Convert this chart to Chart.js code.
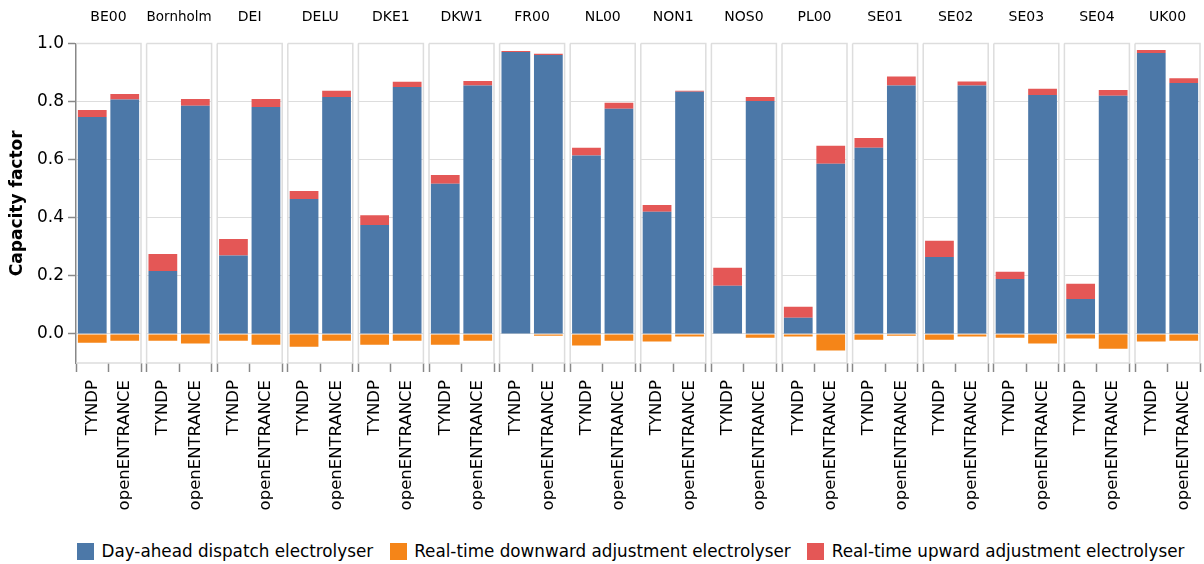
<!DOCTYPE html>
<html>
<head>
<meta charset="utf-8">
<script src="https://cdn.jsdelivr.net/npm/chart.js@4/dist/chart.umd.min.js"></script>
<style>
  html, body { margin: 0; padding: 0; background: #fff; width: 1204px; height: 564px; overflow: hidden; }
  #wrap { position: relative; width: 1204px; height: 564px; font-family: "DejaVu Sans", sans-serif; }
  #wrap canvas { position: absolute; top: 0; }
  #legend { position: absolute; left: 77px; top: 541px; display: flex; align-items: center; font-size: 16.8px; color: #000; white-space: nowrap; }
  #legend .item { display: flex; align-items: center; margin-right: 16.5px; }
  #legend .sw { width: 17px; height: 17px; margin-right: 7.5px; }
</style>
</head>
<body>
<div id="wrap"><div id="legend"></div></div>
<script>
// Regions (facets) and the two model runs compared in each
const regions = ['BE00', 'Bornholm', 'DEI', 'DELU', 'DKE1', 'DKW1', 'FR00', 'NL00',
                 'NON1', 'NOS0', 'PL00', 'SE01', 'SE02', 'SE03', 'SE04', 'UK00'];
const models = ['TYNDP', 'openENTRANCE'];

// Day-ahead dispatch capacity factor
const dayAheadTyndp = [0.747, 0.217, 0.270, 0.465, 0.375, 0.517, 0.971, 0.614,
                       0.421, 0.166, 0.056, 0.641, 0.265, 0.189, 0.120, 0.967];
const dayAheadOpen  = [0.807, 0.786, 0.781, 0.816, 0.850, 0.855, 0.960, 0.775,
                       0.834, 0.802, 0.586, 0.855, 0.855, 0.823, 0.820, 0.864];

// Real-time downward adjustment (negative)
const downTyndp = [-0.030, -0.023, -0.023, -0.044, -0.037, -0.037, -0.002, -0.040,
                   -0.026, -0.002, -0.009, -0.020, -0.020, -0.013, -0.016, -0.026];
const downOpen  = [-0.023, -0.033, -0.037, -0.023, -0.023, -0.023, -0.006, -0.023,
                   -0.009, -0.013, -0.057, -0.006, -0.009, -0.033, -0.051, -0.023];

// Real-time upward adjustment
const upTyndp = [0.024, 0.058, 0.057, 0.027, 0.034, 0.030, 0.003, 0.027,
                 0.023, 0.062, 0.038, 0.034, 0.056, 0.025, 0.053, 0.011];
const upOpen  = [0.019, 0.023, 0.028, 0.021, 0.018, 0.016, 0.005, 0.021,
                 0.003, 0.014, 0.062, 0.031, 0.014, 0.021, 0.020, 0.016];

const yTicks = [0, 0.2, 0.4, 0.6, 0.8, 1.0];

const seriesNames = ['Day-ahead dispatch electrolyser',
                     'Real-time downward adjustment electrolyser',
                     'Real-time upward adjustment electrolyser'];
const seriesColors = ['#4c78a8', '#f58518', '#e45756'];

const FONT = '"DejaVu Sans", sans-serif';
const CANVAS_H = 530;
const PLOT_TOP = 43.5;
const PLOT_BOTTOM = 363;
const FIRST_LEFT = 76;
const PANEL_W = 65;
const PANEL_STEP = 70.6;

// Light frame around each facet; the first facet keeps its y-axis line on the left
const framePlugin = {
  id: 'facetFrame',
  beforeDatasetsDraw(chart, args, opts) {
    const { ctx, chartArea: a } = chart;
    ctx.save();
    ctx.strokeStyle = '#dddddd';
    ctx.lineWidth = 1.5;
    ctx.beginPath();
    ctx.moveTo(a.left, a.top); ctx.lineTo(a.right, a.top);
    ctx.lineTo(a.right, a.bottom); ctx.lineTo(a.left, a.bottom);
    if (!opts.skipLeft) ctx.lineTo(a.left, a.top);
    ctx.stroke();
    ctx.restore();
  }
};

const wrap = document.getElementById('wrap');

regions.forEach((region, i) => {
  const first = i === 0;
  const L = FIRST_LEFT + i * PANEL_STEP;
  const canvasLeft = first ? 0 : Math.floor(L) - 2;
  const canvasRight = Math.ceil(L + PANEL_W) + 2;
  const canvasW = canvasRight - canvasLeft;
  const padLeft = first ? 0 : L - canvasLeft;
  const padRight = canvasRight - (L + PANEL_W);

  const canvas = document.createElement('canvas');
  canvas.width = canvasW;
  canvas.height = CANVAS_H;
  canvas.style.left = canvasLeft + 'px';
  canvas.style.width = canvasW + 'px';
  canvas.style.height = CANVAS_H + 'px';
  wrap.appendChild(canvas);

  new Chart(canvas, {
    type: 'bar',
    data: {
      labels: models,
      datasets: [
        { label: seriesNames[0], data: [dayAheadTyndp[i], dayAheadOpen[i]], backgroundColor: seriesColors[0] },
        { label: seriesNames[1], data: [downTyndp[i], downOpen[i]], backgroundColor: seriesColors[1] },
        { label: seriesNames[2], data: [upTyndp[i], upOpen[i]], backgroundColor: seriesColors[2] }
      ]
    },
    options: {
      responsive: false,
      animation: false,
      devicePixelRatio: 1,
      events: [],
      layout: { padding: { top: 0, bottom: 0, left: padLeft, right: padRight } },
      datasets: { bar: { barPercentage: 0.885, categoryPercentage: 1, borderWidth: 0 } },
      plugins: {
        legend: { display: false },
        tooltip: { enabled: false },
        facetFrame: { skipLeft: first },
        title: {
          display: true,
          text: region,
          fullSize: false,
          color: '#000',
          font: { family: FONT, size: 14, weight: 'normal', lineHeight: 1.2 },
          padding: { top: 9, bottom: PLOT_TOP - 9 - 16.8 }
        }
      },
      scales: {
        x: {
          stacked: true,
          offset: true,
          border: { display: false },
          grid: { drawOnChartArea: false, drawTicks: true, tickLength: 9, tickColor: '#888888', tickWidth: 1.5 },
          ticks: { minRotation: 90, maxRotation: 90, autoSkip: false, padding: 8, color: '#000',
                   font: { family: FONT, size: 16.5 } },
          afterFit(scale) {
            scale.height = CANVAS_H - PLOT_BOTTOM;
            scale.paddingLeft = 0;
            scale.paddingRight = 0;
          }
        },
        y: {
          stacked: true,
          min: -0.1,
          max: 1.0,
          afterBuildTicks(scale) {
            scale.ticks = yTicks.map(v => ({ value: v }));
          },
          border: { display: first, color: '#888888', width: 1.5 },
          grid: { color: '#dddddd', lineWidth: 1, drawTicks: first, tickLength: 8, tickColor: '#888888', tickWidth: 1.5 },
          ticks: {
            display: first,
            padding: 4,
            color: '#000',
            font: { family: FONT, size: 17 },
            callback: v => Number(v).toFixed(1)
          },
          title: {
            display: first,
            text: 'Capacity factor',
            color: '#000',
            font: { family: FONT, size: 17, weight: 'bold' },
            padding: { top: 7, bottom: 0 }
          },
          afterFit(scale) {
            scale.width = first ? FIRST_LEFT : 0;
          }
        }
      }
    },
    plugins: [framePlugin]
  });
});

// Legend
const legend = document.getElementById('legend');
[0, 1, 2].forEach(k => {
  const item = document.createElement('div');
  item.className = 'item';
  const sw = document.createElement('span');
  sw.className = 'sw';
  sw.style.background = seriesColors[k];
  const tx = document.createElement('span');
  tx.textContent = seriesNames[k];
  item.appendChild(sw);
  item.appendChild(tx);
  legend.appendChild(item);
});
</script>
</body>
</html>
